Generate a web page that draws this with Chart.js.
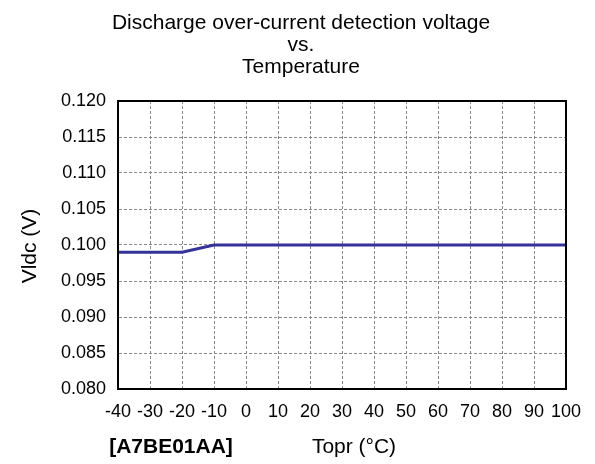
<!DOCTYPE html>
<html>
<head>
<meta charset="utf-8">
<script src="https://cdn.jsdelivr.net/npm/chart.js@4/dist/chart.umd.min.js"></script>
<style>
  html, body { margin: 0; padding: 0; background: #fff; }
  #wrap { width: 595px; height: 464px; }
</style>
</head>
<body>
<div id="wrap"><canvas id="vdetChart" width="595" height="464"></canvas></div>
<script>
const temps = [-40, -30, -20, -10, 0, 10, 20, 30, 40, 50, 60, 70, 80, 90, 100];
const vldc = [0.099, 0.099, 0.099, 0.100, 0.100, 0.100, 0.100, 0.100, 0.100, 0.100, 0.100, 0.100, 0.100, 0.100, 0.100];
const titleLines = ['Discharge over-current detection voltage', 'vs.', 'Temperature'];
const xTitle = 'Topr (°C)';
const yTitle = 'Vldc (V)';
const partName = '[A7BE01AA]';

const FONT = '"Liberation Sans", Arial, sans-serif';

// frame, titles and the part label
const extras = {
    id: 'extras',
    afterDraw(chart) {
        const ctx = chart.ctx;
        const a = chart.chartArea;
        ctx.save();
        ctx.strokeStyle = '#000';
        ctx.lineWidth = 2;
        ctx.strokeRect(a.left, a.top, a.right - a.left, a.bottom - a.top);

        ctx.fillStyle = '#000';
        ctx.textAlign = 'center';
        ctx.textBaseline = 'alphabetic';
        ctx.font = '21px ' + FONT;
        titleLines.forEach((t, i) => ctx.fillText(t, 301, 29 + i * 22));

        ctx.font = '21px ' + FONT;
        ctx.fillText(xTitle, 354, 453);

        ctx.font = 'bold 21px ' + FONT;
        ctx.fillText(partName, 171, 453);

        ctx.translate(36, 246);
        ctx.rotate(-Math.PI / 2);
        ctx.font = '21px ' + FONT;
        ctx.fillText(yTitle, 0, 0);
        ctx.restore();
    }
};

new Chart(document.getElementById('vdetChart'), {
    type: 'line',
    data: {
        datasets: [{
            data: temps.map((t, i) => ({ x: t, y: vldc[i] })),
            borderColor: '#333399',
            borderWidth: 3,
            pointRadius: 0,
            tension: 0,
            fill: false
        }]
    },
    options: {
        responsive: false,
        animation: false,
        layout: { padding: { top: 101, right: 29, left: 0, bottom: 0 } },
        plugins: { legend: { display: false }, title: { display: false }, tooltip: { enabled: false } },
        scales: {
            x: {
                type: 'linear',
                min: -40,
                max: 100,
                afterFit(scale) { scale.height = 75; },
                ticks: {
                    stepSize: 10,
                    padding: 12,
                    color: '#000',
                    maxRotation: 0,
                    autoSkip: false,
                    font: { family: FONT, size: 18 }
                },
                grid: { color: '#888', lineWidth: 1, drawTicks: false },
                border: { color: '#000', width: 2, dash: [3, 2] }
            },
            y: {
                min: 0.08,
                max: 0.12,
                afterFit(scale) { scale.width = 118; },
                ticks: {
                    stepSize: 0.005,
                    padding: 12,
                    color: '#000',
                    autoSkip: false,
                    font: { family: FONT, size: 18 },
                    callback: v => v.toFixed(3)
                },
                grid: { color: '#888', lineWidth: 1, drawTicks: false },
                border: { color: '#000', width: 2, dash: [3, 2] }
            }
        }
    },
    plugins: [extras]
});
</script>
</body>
</html>
